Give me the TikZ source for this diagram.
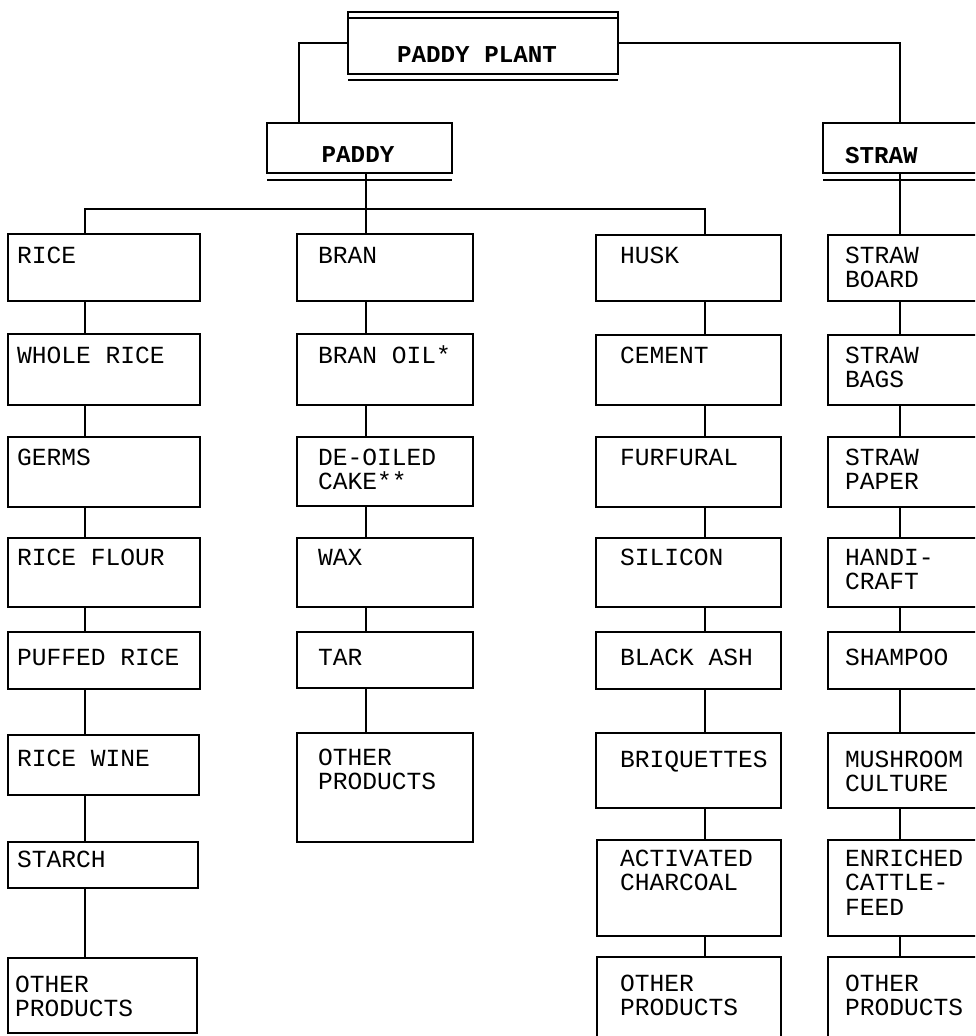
\documentclass[tikz,border=0pt]{standalone}
\usepackage{fontspec}
\newfontfamily\typew{Liberation Mono}
\tikzset{
  box/.style={draw, line width=2.8pt, rectangle, inner sep=0pt, outer sep=0pt},
  lbl/.style={inner sep=0pt, outer sep=0pt, font=\typew\fontsize{24.6}{24.6}\selectfont, anchor=base west},
  hlbl/.style={inner sep=0pt, outer sep=0pt, font=\typew\bfseries\fontsize{24.2}{24.2}\selectfont, anchor=base},
  conn/.style={line width=2.8pt},
}
\newcommand\Bx[5]{\node[box, anchor=north west, minimum width={(#4-#2)*1pt}, minimum height={(#5-#3)*1pt}] (#1) at (#2,#3) {};}
\newcommand\Lb[4]{\node[lbl] (#1) at (#2,#3) {#4};}
\newcommand\ML[1]{\vtop{\baselineskip=24.8pt\lineskiplimit=-30pt\lineskip=0pt\halign{##\hfil\cr#1\crcr}}}
\begin{document}
\begin{tikzpicture}[x=1pt,y=-1pt]
\useasboundingbox (0,0) rectangle (975,1036);
\clip (0,0) rectangle (975,1036);
% column connector lines
\coordinate (c0) at (299,0);
\coordinate (c1) at (85,0);
\coordinate (c2) at (366,0);
\coordinate (c3) at (705,0);
\coordinate (c4) at (900,0);
\coordinate (bus) at (366,209);

% top level
\Bx{pp}{348}{12}{618}{74}
\draw[conn] ([yshift=-6pt]pp.north west) -- ([yshift=-6pt]pp.north east);
\draw[conn] ([yshift=-6pt]pp.south west) -- ([yshift=-6pt]pp.south east);
\node[hlbl] (ppt) at (477,62) {PADDY PLANT};

\Bx{paddy}{267}{123}{452}{173}
\draw[conn] ([yshift=-7pt]paddy.south west) -- ([yshift=-7pt]paddy.south east);
\node[hlbl] (paddyt) at (358,162) {PADDY};

\Bx{straw}{823}{123}{992}{173}
\draw[conn] ([yshift=-7pt]straw.south west) -- ([yshift=-7pt]straw.south east);
\node[hlbl, anchor=base west] (strawt) at (845,163) {STRAW};

% column 1
\Bx{rice}{8}{234}{200}{301}     \Lb{ricet}{17}{263}{RICE}
\Bx{wrice}{8}{334}{200}{405}    \Lb{wricet}{17}{363}{WHOLE RICE}
\Bx{germs}{8}{437}{200}{507}    \Lb{germst}{17}{465}{GERMS}
\Bx{flour}{8}{538}{200}{607}    \Lb{flourt}{17}{565}{RICE FLOUR}
\Bx{puffed}{8}{632}{200}{689}   \Lb{puffedt}{17}{665}{PUFFED RICE}
\Bx{wine}{8}{735}{199}{795}     \Lb{winet}{17}{766}{RICE WINE}
\Bx{starch}{8}{842}{198}{888}   \Lb{starcht}{17}{867}{STARCH}
\Bx{otha}{8}{958}{197}{1033}    \Lb{othat}{15}{992}{\ML{OTHER\cr PRODUCTS}}

% column 2
\Bx{bran}{297}{234}{473}{301}   \Lb{brant}{318}{263}{BRAN}
\Bx{oil}{297}{334}{473}{405}    \Lb{oilt}{318}{363}{BRAN OIL*}
\Bx{cake}{297}{437}{473}{506}   \Lb{caket}{318}{465}{\ML{DE-OILED\cr CAKE**}}
\Bx{wax}{297}{538}{473}{607}    \Lb{waxt}{318}{565}{WAX}
\Bx{tar}{297}{632}{473}{688}    \Lb{tart}{318}{665}{TAR}
\Bx{othb}{297}{733}{473}{842}   \Lb{othbt}{318}{765}{\ML{OTHER\cr PRODUCTS}}

% column 3
\Bx{husk}{596}{235}{781}{301}   \Lb{huskt}{620}{263}{HUSK}
\Bx{cement}{596}{335}{781}{405} \Lb{cementt}{620}{363}{CEMENT}
\Bx{furf}{596}{437}{781}{507}   \Lb{furft}{620}{465}{FURFURAL}
\Bx{silicon}{596}{538}{781}{607}\Lb{silicont}{620}{565}{SILICON}
\Bx{ash}{596}{632}{781}{689}    \Lb{asht}{620}{665}{BLACK ASH}
\Bx{briq}{596}{733}{781}{808}   \Lb{briqt}{620}{767}{BRIQUETTES}
\Bx{act}{597}{840}{781}{936}    \Lb{actt}{620}{866}{\ML{ACTIVATED\cr CHARCOAL}}
\Bx{othc}{597}{957}{781}{1050}  \Lb{othct}{620}{991}{\ML{OTHER\cr PRODUCTS}}

% column 4
\Bx{sboard}{828}{235}{992}{301} \Lb{sboardt}{845}{263}{\ML{STRAW\cr BOARD}}
\Bx{sbags}{828}{335}{992}{405}  \Lb{sbagst}{845}{363}{\ML{STRAW\cr BAGS}}
\Bx{spaper}{828}{437}{992}{507} \Lb{spapert}{845}{465}{\ML{STRAW\cr PAPER}}
\Bx{handi}{828}{538}{992}{607}  \Lb{handit}{845}{565}{\ML{HANDI-\cr CRAFT}}
\Bx{shamp}{828}{632}{992}{689}  \Lb{shampt}{845}{665}{SHAMPOO}
\Bx{mush}{828}{733}{992}{808}   \Lb{musht}{845}{767}{\ML{MUSHROOM\cr CULTURE}}
\Bx{feed}{828}{840}{992}{936}   \Lb{feedt}{845}{866}{\ML{ENRICHED\cr CATTLE-\cr FEED}}
\Bx{othd}{828}{957}{992}{1050}  \Lb{othdt}{845}{991}{\ML{OTHER\cr PRODUCTS}}

% connectors
\draw[conn] (pp.west) -| (paddy.north -| c0);
\draw[conn] (pp.east) -| (straw.north -| c4);
\draw[conn] (paddy.south -| c2) -- (bran.north -| c2);
\draw[conn] (rice.north -| c1) |- (bus) -| (husk.north -| c3);
\draw[conn] (straw.south -| c4) -- (sboard.north -| c4);

\foreach \a/\b in {rice/wrice, wrice/germs, germs/flour, flour/puffed, puffed/wine, wine/starch, starch/otha}
  \draw[conn] (\a.south -| c1) -- (\b.north -| c1);
\foreach \a/\b in {bran/oil, oil/cake, cake/wax, wax/tar, tar/othb}
  \draw[conn] (\a.south -| c2) -- (\b.north -| c2);
\foreach \a/\b in {husk/cement, cement/furf, furf/silicon, silicon/ash, ash/briq, briq/act, act/othc}
  \draw[conn] (\a.south -| c3) -- (\b.north -| c3);
\foreach \a/\b in {sboard/sbags, sbags/spaper, spaper/handi, handi/shamp, shamp/mush, mush/feed, feed/othd}
  \draw[conn] (\a.south -| c4) -- (\b.north -| c4);
\end{tikzpicture}
\end{document}
